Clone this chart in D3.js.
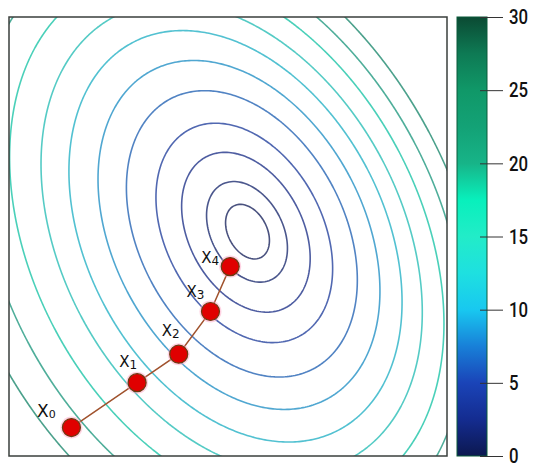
<!DOCTYPE html>
<html>
<head>
<meta charset="utf-8">
<script src="https://cdn.jsdelivr.net/npm/d3@7"></script>
<style>
  body { margin: 0; background: #fff; }
</style>
</head>
<body>
<svg id="chart" width="550" height="471"></svg>
<script>
// contour levels drawn on the plot
var levels = [0.56, 1.4, 2.8, 4.5, 6.7, 9, 11.5, 14, 16.9, 19.9, 23.1];

// colour map of the colour bar: value -> colour
var cmapValues = [0, 2.5, 5, 7.5, 10, 12.5, 15, 17.5, 20, 22.5, 25, 27.5, 30];
var cmapColors = ["#0c1850", "#142c90", "#1a44b8", "#1880d8", "#18c8f0", "#1ee0e0",
                  "#22ecc8", "#08f0bc", "#17b488", "#13a276", "#109868", "#0e7a54", "#0b4a33"];
var barTicks = [0, 5, 10, 15, 20, 25, 30];

// descent iterates x0..x4
var ptX = [-1.61, -1.01, -0.63, -0.34, -0.16];
var ptY = [-1.79, -1.38, -1.12, -0.73, -0.32];
var ptNames = ["0", "1", "2", "3", "4"];

var svg = d3.select("#chart");

var plotL = 9, plotR = 447, plotT = 17, plotB = 456;
var x = d3.scaleLinear().domain([-2.18, 1.82]).range([plotL, plotR]);
var y = d3.scaleLinear().domain([-2.05, 1.96]).range([plotB, plotT]);
var cmap = d3.scaleLinear().domain(cmapValues).range(cmapColors).clamp(true);

// the function being minimised (tilted, slightly skewed bowl)
function f(px, py) {
  var n2 = px * px + 2 * 0.262 * px * py + 0.6456 * py * py;
  var g = Math.sqrt(n2) * (1 + 0.065 * (0.906 * px + 0.423 * py));
  return 6.79 * Math.pow(g, 1.5);
}

// sample f on a grid a bit larger than the plot, so the contour edges fall outside the clip
var step = 2, pad = 10;
var gx0 = plotL - pad, gy0 = plotT - pad;
var nx = Math.ceil((plotR - plotL + 2 * pad) / step) + 1;
var ny = Math.ceil((plotB - plotT + 2 * pad) / step) + 1;
var values = new Array(nx * ny);
for (var j = 0; j < ny; j++) {
  for (var i = 0; i < nx; i++) {
    values[i + j * nx] = f(x.invert(gx0 + i * step), y.invert(gy0 + j * step));
  }
}

var contours = d3.contours().size([nx, ny]).thresholds(levels)(values);
var path = d3.geoPath(d3.geoTransform({
  point: function(gx, gy) {
    this.stream.point(gx0 + (gx - 0.5) * step, gy0 + (gy - 0.5) * step);
  }
}));

svg.append("defs").append("clipPath").attr("id", "plotclip")
  .append("rect")
  .attr("x", plotL).attr("y", plotT)
  .attr("width", plotR - plotL).attr("height", plotB - plotT);

// contour lines look washed out in the picture, so mix a little grey in
svg.append("g")
  .attr("clip-path", "url(#plotclip)")
  .selectAll("path")
  .data(contours)
  .join("path")
  .attr("d", path)
  .attr("fill", "none")
  .attr("stroke", function(d) { return d3.interpolateRgb(cmap(d.value), "#6c6c84")(0.3); })
  .attr("stroke-opacity", 0.85)
  .attr("stroke-width", 1.6);

// frame
svg.append("rect")
  .attr("x", plotL).attr("y", plotT)
  .attr("width", plotR - plotL).attr("height", plotB - plotT)
  .attr("fill", "none")
  .attr("stroke", "#3a3f3c")
  .attr("stroke-width", 1.5);

// descent path
var pts = ptX.map(function(v, i) { return { x: v, y: ptY[i], name: ptNames[i] }; });

svg.append("path")
  .datum(pts)
  .attr("d", d3.line().x(function(d) { return x(d.x); }).y(function(d) { return y(d.y); }))
  .attr("fill", "none")
  .attr("stroke", "#a0522d")
  .attr("stroke-width", 1.5);

var dots = svg.append("g").selectAll("g").data(pts).join("g")
  .attr("transform", function(d) { return "translate(" + x(d.x) + "," + y(d.y) + ")"; });

dots.append("circle").attr("r", 11).attr("fill", "#ff9ec0").attr("opacity", 0.45);
dots.append("circle").attr("r", 9)
  .attr("fill", "#e00000")
  .attr("stroke", "#6a3c12")
  .attr("stroke-width", 1.2);

// label placement next to each point
var labelOffsets = [[-25, -17], [-9, -21], [-8, -23], [-15, -19], [-20, -9]];

var labels = svg.append("g").selectAll("text").data(pts).join("text")
  .attr("x", function(d, i) { return x(d.x) + labelOffsets[i][0]; })
  .attr("y", function(d, i) { return y(d.y) + labelOffsets[i][1]; })
  .attr("text-anchor", "middle")
  .attr("dominant-baseline", "central")
  .attr("font-family", "'DejaVu Sans', sans-serif")
  .attr("font-size", function(d, i) { return i == 0 ? 17 : 15; })
  .attr("fill", "#111");
labels.append("tspan").text("X");
labels.append("tspan")
  .attr("font-size", function(d, i) { return i == 0 ? 11 : 12; })
  .attr("dy", 3)
  .text(function(d) { return d.name; });

// colour bar
var barL = 457, barR = 487;
var yBar = d3.scaleLinear().domain([0, 30]).range([plotB, plotT]);

var grad = svg.select("defs").append("linearGradient")
  .attr("id", "cbar")
  .attr("x1", 0).attr("y1", 1).attr("x2", 0).attr("y2", 0);
grad.selectAll("stop").data(cmapValues).join("stop")
  .attr("offset", function(d) { return d / 30; })
  .attr("stop-color", function(d, i) { return cmapColors[i]; });

svg.append("rect")
  .attr("x", barL).attr("y", plotT)
  .attr("width", barR - barL).attr("height", plotB - plotT)
  .attr("fill", "url(#cbar)")
  .attr("stroke", "#0a5a3a")
  .attr("stroke-width", 1);

var barAxis = svg.append("g")
  .attr("transform", "translate(480,0)")
  .call(d3.axisRight(yBar).tickValues(barTicks).tickSize(23).tickPadding(6));
barAxis.select(".domain").remove();
barAxis.selectAll("line").attr("stroke", "#333").attr("stroke-width", 1);
// labels in the picture are a narrow face: squeeze Roboto horizontally
var squeeze = 0.8;
barAxis.selectAll("text")
  .attr("x", 29 / squeeze)
  .attr("transform", "scale(" + squeeze + ",1)")
  .attr("font-family", "Roboto, 'DejaVu Sans', sans-serif")
  .attr("font-weight", 500)
  .attr("font-size", 21)
  .attr("fill", "#111");
</script>
</body>
</html>
